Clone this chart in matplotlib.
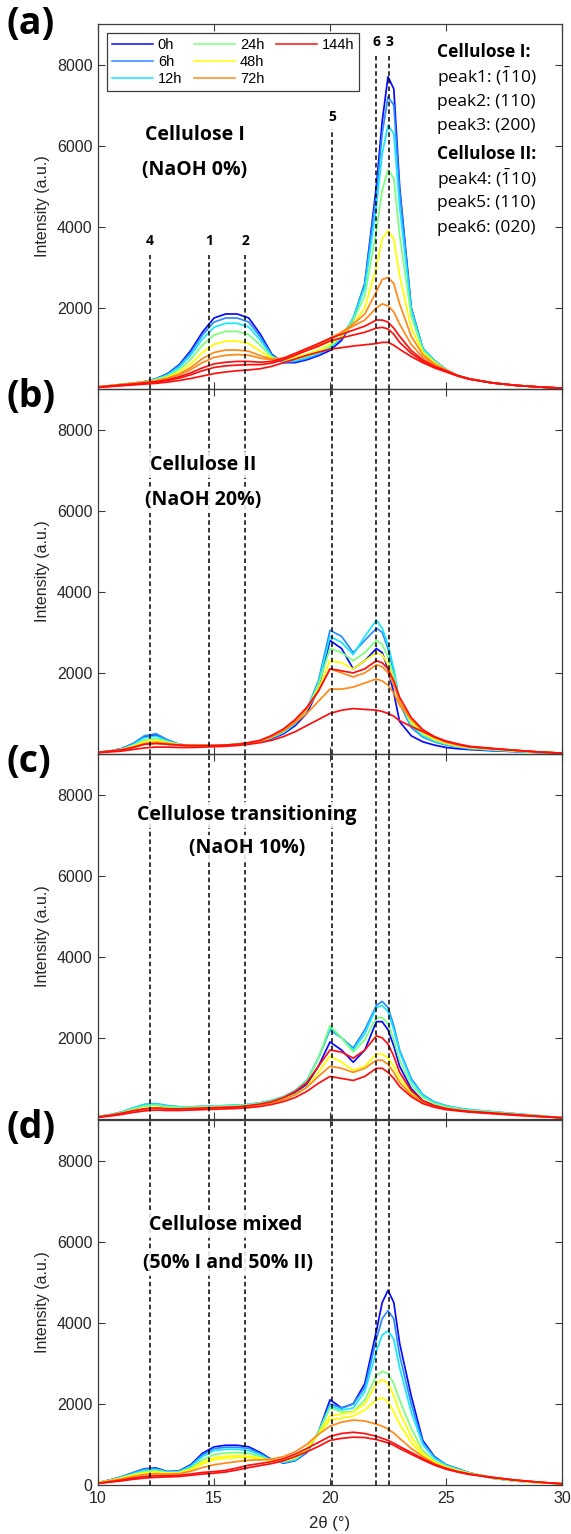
import matplotlib
matplotlib.use('Agg')
import matplotlib.pyplot as plt
from matplotlib.lines import Line2D

plt.rcParams['mathtext.fontset'] = 'custom'
plt.rcParams['mathtext.rm'] = 'Open Sans'
plt.rcParams['mathtext.default'] = 'regular'

# ---------------- data ----------------
X = [10, 10.5, 11, 11.5, 12, 12.5, 13, 13.5, 14, 14.5, 15, 15.5, 16, 16.5, 17, 17.5, 18, 18.5, 19, 19.5,
     20, 20.5, 21, 21.5, 22, 22.25, 22.5, 22.75, 23, 23.5, 24, 24.5, 25, 25.5, 26, 27, 28, 29, 30]

TIMES = ['0h', '6h', '12h', '24h', '48h', '72h', '144h']
TIME_COLORS = ['#0a0aff', '#2b8cff', '#19e6ff', '#7dff7d', '#ffff00', '#ff8a1a', '#ff1010']

# Panel (a) cellulose I
A_0H = [50, 80, 110, 140, 180, 250, 380, 600, 950, 1400, 1750, 1850, 1850, 1750, 1350, 850, 650, 650, 720, 820, 950, 1200, 1700, 2600, 5000, 6600, 7700, 7400, 5000, 2000, 1000, 700, 480, 330, 250, 150, 90, 50, 20]
A_6H = [50, 80, 110, 140, 180, 250, 370, 580, 900, 1330, 1650, 1750, 1750, 1650, 1280, 830, 660, 680, 750, 850, 1000, 1250, 1750, 2600, 4800, 6300, 7200, 7000, 4900, 2000, 1000, 700, 480, 330, 250, 150, 90, 50, 20]
A_12H = [50, 80, 110, 140, 180, 240, 350, 540, 830, 1230, 1520, 1620, 1620, 1530, 1200, 800, 680, 700, 780, 880, 1020, 1280, 1750, 2500, 4500, 5800, 6500, 6300, 4500, 1950, 1000, 700, 480, 330, 250, 150, 90, 50, 20]
A_24H = [50, 80, 110, 140, 180, 230, 320, 480, 730, 1080, 1330, 1420, 1420, 1340, 1080, 780, 700, 730, 800, 900, 1050, 1300, 1700, 2300, 3900, 4900, 5400, 5200, 3800, 1800, 950, 680, 470, 330, 250, 150, 90, 50, 20]
A_48H = [50, 80, 110, 140, 170, 210, 290, 420, 620, 900, 1100, 1180, 1180, 1120, 930, 760, 730, 780, 860, 960, 1100, 1300, 1600, 2000, 3000, 3700, 3900, 3700, 2800, 1500, 900, 650, 470, 330, 250, 150, 90, 50, 20]
A_72H = [50, 80, 110, 140, 170, 200, 270, 370, 530, 750, 900, 960, 960, 930, 820, 740, 760, 850, 950, 1050, 1200, 1400, 1600, 1850, 2400, 2700, 2750, 2600, 2100, 1300, 850, 620, 470, 330, 250, 150, 90, 50, 20]
A_72H_B = [50, 80, 110, 140, 170, 200, 260, 350, 480, 650, 780, 830, 850, 830, 760, 720, 760, 860, 970, 1080, 1250, 1400, 1550, 1700, 2000, 2100, 2050, 1900, 1600, 1100, 780, 600, 460, 330, 250, 150, 90, 50, 20]
A_144H = [50, 70, 100, 120, 150, 180, 230, 300, 400, 520, 620, 660, 680, 680, 660, 680, 760, 880, 1000, 1120, 1250, 1350, 1450, 1550, 1700, 1700, 1650, 1500, 1300, 950, 720, 560, 450, 330, 250, 150, 90, 50, 20]
A_144H_B = [45, 65, 90, 110, 140, 170, 210, 270, 350, 450, 530, 570, 590, 600, 600, 640, 720, 830, 950, 1060, 1180, 1260, 1330, 1400, 1500, 1520, 1480, 1350, 1150, 880, 680, 540, 440, 330, 250, 150, 90, 50, 20]
A_144H_C = [40, 60, 80, 100, 120, 140, 170, 210, 260, 320, 380, 420, 450, 470, 500, 560, 650, 740, 830, 910, 980, 1020, 1060, 1090, 1120, 1150, 1150, 1080, 980, 800, 650, 520, 420, 320, 240, 150, 90, 50, 20]

# Panel (b) cellulose II
B_0H = [40, 70, 130, 250, 430, 470, 330, 230, 200, 200, 200, 210, 230, 260, 300, 380, 500, 700, 1000, 1600, 2800, 2600, 2100, 2300, 2600, 2500, 2100, 1500, 800, 450, 300, 220, 160, 130, 110, 80, 60, 40, 20]
B_6H = [40, 70, 130, 250, 450, 500, 350, 240, 210, 210, 210, 220, 240, 270, 310, 400, 530, 750, 1100, 1800, 3050, 2900, 2500, 2800, 3100, 3000, 2600, 2000, 1250, 650, 420, 300, 220, 170, 130, 90, 60, 40, 20]
B_12H = [40, 70, 120, 230, 400, 440, 320, 230, 210, 210, 210, 220, 240, 270, 310, 400, 530, 750, 1100, 1750, 2900, 2750, 2450, 2900, 3300, 3100, 2700, 2100, 1300, 700, 450, 320, 240, 180, 140, 100, 70, 40, 20]
B_24H = [40, 70, 110, 200, 340, 380, 300, 230, 210, 210, 210, 220, 240, 270, 320, 420, 560, 780, 1100, 1700, 2600, 2500, 2300, 2500, 2800, 2700, 2400, 1900, 1300, 750, 480, 340, 250, 190, 150, 110, 70, 40, 20]
B_48H = [40, 70, 110, 190, 300, 330, 280, 230, 210, 210, 210, 220, 240, 270, 320, 430, 580, 800, 1100, 1600, 2300, 2250, 2100, 2300, 2500, 2450, 2200, 1800, 1300, 800, 520, 370, 270, 200, 160, 120, 80, 50, 20]
B_72H = [40, 70, 100, 170, 260, 290, 260, 220, 210, 210, 210, 220, 240, 280, 330, 440, 600, 820, 1100, 1550, 2100, 2000, 1900, 2000, 2200, 2150, 2000, 1700, 1300, 850, 560, 400, 290, 220, 170, 130, 90, 50, 20]
B_72H_B = [40, 70, 100, 160, 240, 260, 240, 210, 200, 200, 200, 210, 230, 270, 320, 420, 570, 770, 1000, 1300, 1600, 1600, 1650, 1750, 1850, 1800, 1700, 1500, 1200, 850, 580, 420, 300, 230, 180, 130, 90, 50, 20]
B_144H = [40, 70, 100, 160, 240, 260, 240, 220, 210, 210, 210, 220, 240, 280, 340, 460, 620, 850, 1150, 1550, 2100, 2050, 2000, 2100, 2300, 2250, 2100, 1800, 1400, 900, 600, 430, 310, 240, 180, 130, 90, 50, 20]
B_144H_B = [30, 50, 70, 110, 150, 170, 170, 160, 160, 170, 180, 190, 210, 240, 280, 340, 430, 550, 700, 850, 1000, 1080, 1120, 1100, 1080, 1050, 1000, 930, 820, 680, 550, 420, 320, 250, 190, 140, 90, 50, 20]

# Panel (c) transitioning
C_0H = [60, 100, 160, 250, 330, 350, 300, 280, 280, 290, 300, 310, 320, 340, 380, 440, 520, 650, 850, 1300, 1900, 1700, 1400, 1700, 2400, 2400, 2200, 1800, 1300, 750, 450, 330, 260, 220, 190, 150, 110, 70, 30]
C_6H = [60, 100, 170, 270, 360, 380, 330, 300, 300, 310, 320, 330, 340, 360, 400, 460, 550, 700, 950, 1500, 2200, 2000, 1750, 2200, 2800, 2900, 2750, 2300, 1700, 1000, 600, 420, 330, 270, 230, 180, 130, 80, 30]
C_12H = [60, 100, 170, 270, 350, 370, 320, 300, 300, 310, 320, 330, 340, 360, 400, 460, 550, 700, 950, 1500, 2250, 2000, 1700, 2100, 2750, 2800, 2650, 2200, 1650, 950, 580, 410, 320, 270, 230, 180, 130, 80, 30]
C_24H = [60, 100, 160, 250, 320, 340, 300, 280, 290, 300, 310, 320, 330, 350, 390, 450, 540, 690, 930, 1500, 2300, 2000, 1650, 1950, 2500, 2500, 2350, 1950, 1450, 850, 530, 380, 300, 250, 210, 170, 120, 80, 30]
C_48H = [50, 90, 140, 210, 270, 290, 260, 250, 260, 270, 280, 290, 300, 320, 360, 410, 490, 610, 800, 1150, 1550, 1400, 1200, 1300, 1600, 1600, 1500, 1300, 1000, 650, 430, 320, 260, 220, 190, 150, 110, 70, 30]
C_72H = [50, 90, 140, 200, 250, 270, 250, 240, 250, 260, 270, 280, 290, 310, 350, 400, 480, 600, 780, 1050, 1300, 1250, 1150, 1250, 1450, 1450, 1350, 1150, 900, 600, 410, 310, 250, 210, 180, 140, 100, 60, 30]
C_144H = [50, 90, 140, 200, 250, 270, 250, 250, 260, 270, 280, 290, 300, 330, 370, 430, 530, 680, 900, 1300, 1700, 1650, 1500, 1700, 2050, 2000, 1850, 1550, 1150, 700, 450, 330, 260, 220, 190, 150, 110, 70, 30]
C_144H_B = [40, 70, 110, 160, 200, 220, 210, 210, 220, 230, 240, 250, 260, 280, 310, 360, 430, 530, 680, 880, 1050, 1000, 950, 1050, 1250, 1250, 1150, 1000, 800, 550, 380, 290, 230, 200, 170, 130, 90, 60, 30]

# Panel (d) mixed
D_0H = [60, 120, 200, 300, 400, 420, 330, 350, 500, 780, 940, 980, 980, 940, 800, 620, 540, 600, 800, 1300, 2100, 1900, 2000, 2500, 3800, 4500, 4800, 4500, 3500, 2200, 1100, 700, 500, 400, 300, 170, 100, 60, 30]
D_6H = [60, 120, 200, 300, 390, 400, 330, 340, 480, 740, 900, 930, 930, 900, 770, 610, 550, 610, 820, 1300, 2000, 1900, 2000, 2400, 3600, 4100, 4300, 4100, 3200, 2000, 1050, 680, 500, 400, 300, 170, 100, 60, 30]
D_12H = [60, 110, 190, 280, 360, 380, 320, 330, 460, 700, 850, 880, 880, 850, 740, 600, 560, 620, 830, 1300, 1950, 1850, 1900, 2300, 3300, 3700, 3800, 3600, 2900, 1800, 1000, 660, 490, 390, 300, 170, 100, 60, 30]
D_24H = [60, 110, 180, 260, 330, 350, 300, 310, 420, 620, 750, 790, 800, 780, 700, 600, 580, 650, 850, 1300, 1900, 1800, 1800, 2100, 2700, 2800, 2750, 2500, 2100, 1400, 850, 600, 460, 370, 290, 170, 100, 60, 30]
D_48H = [60, 110, 170, 240, 300, 320, 290, 300, 390, 560, 670, 710, 720, 710, 660, 600, 600, 680, 880, 1250, 1700, 1750, 1800, 2000, 2500, 2600, 2500, 2200, 1800, 1200, 780, 570, 450, 360, 290, 180, 110, 60, 30]
D_48H_B = [60, 100, 160, 230, 290, 310, 280, 290, 370, 520, 620, 660, 680, 680, 640, 600, 610, 700, 900, 1250, 1600, 1650, 1700, 1850, 2100, 2150, 2050, 1800, 1500, 1050, 720, 540, 430, 350, 280, 180, 110, 60, 30]
D_72H = [50, 100, 150, 210, 260, 280, 270, 280, 340, 430, 500, 540, 580, 610, 620, 640, 700, 820, 1000, 1250, 1450, 1550, 1600, 1580, 1500, 1450, 1380, 1280, 1150, 900, 700, 530, 420, 340, 280, 190, 120, 70, 30]
D_144H = [40, 80, 120, 170, 210, 230, 230, 240, 270, 310, 330, 360, 420, 490, 530, 580, 650, 760, 900, 1050, 1200, 1270, 1300, 1270, 1200, 1150, 1100, 1030, 950, 800, 650, 510, 410, 330, 270, 190, 120, 70, 30]
D_144H_B = [40, 70, 100, 140, 170, 190, 200, 210, 240, 270, 290, 320, 370, 430, 480, 530, 600, 700, 820, 950, 1100, 1150, 1180, 1170, 1120, 1080, 1040, 980, 900, 760, 620, 490, 390, 320, 260, 180, 120, 70, 30]

# (series, time index)
PANEL_A = [(A_0H, 0), (A_6H, 1), (A_12H, 2), (A_24H, 3), (A_48H, 4), (A_72H, 5), (A_72H_B, 5),
           (A_144H, 6), (A_144H_B, 6), (A_144H_C, 6)]
PANEL_B = [(B_0H, 0), (B_6H, 1), (B_12H, 2), (B_24H, 3), (B_48H, 4), (B_72H, 5), (B_72H_B, 5),
           (B_144H, 6), (B_144H_B, 6)]
PANEL_C = [(C_0H, 0), (C_6H, 1), (C_12H, 2), (C_24H, 3), (C_48H, 4), (C_72H, 5),
           (C_144H, 6), (C_144H_B, 6)]
PANEL_D = [(D_0H, 0), (D_6H, 1), (D_12H, 2), (D_24H, 3), (D_48H, 4), (D_48H_B, 4), (D_72H, 5),
           (D_144H, 6), (D_144H_B, 6)]

PEAK_NAMES = ['4', '1', '2', '5', '6', '3']
PEAK_X = [12.25, 14.8, 16.35, 20.1, 22.0, 22.55]
PEAK_LINE_TOP_A = [3300, 3300, 3300, 6400, 8250, 8250]
PEAK_LABEL_Y_A = [3650, 3650, 3650, 6700, 8550, 8550]

PANEL_LABELS = ['(a)', '(b)', '(c)', '(d)']
TITLES = [('Cellulose I', '(NaOH 0%)'), ('Cellulose II', '(NaOH 20%)'),
          ('Cellulose transitioning', '(NaOH 10%)'), ('Cellulose mixed', '(50% I and 50% II)')]
INFO_LINES = [('Cellulose I:', True), ('peak1: ($\\bar{1}$10)', False), ('peak2: (110)', False),
              ('peak3: (200)', False), ('Cellulose II:', True), ('peak4: ($\\bar{1}$10)', False),
              ('peak5: (110)', False), ('peak6: (020)', False)]

# ---------------- layout ----------------
W, H = 571, 1534
fig = plt.figure(figsize=(W / 100, H / 100), dpi=100)
left, right = 98 / W, 562 / W
tops_px = [24, 389, 754, 1120]
ph = 365
AX_COL = '#3c3c3c'
TICK_FONT = 'Liberation Sans'
BOLD_FONT = 'Open Sans'

title_pos = [((0.209, 0.696), (0.209, 0.600)), ((0.227, 0.792), (0.227, 0.696)),
             ((0.321, 0.833), (0.321, 0.742)), ((0.274, 0.712), (0.280, 0.608))]
label_y_px = [24, 397, 762, 1128]

panels = [PANEL_A, PANEL_B, PANEL_C, PANEL_D]
axes = []
for i, curves in enumerate(panels):
    bottom = 1 - (tops_px[i] + ph) / H
    ax = fig.add_axes([left, bottom, right - left, ph / H])
    ax.patch.set_alpha(0)
    axes.append(ax)
    for series, ti in curves:
        ax.plot(X, series, color=TIME_COLORS[ti], lw=1.25, zorder=2)
    ax.set_xlim(10, 30)
    ax.set_ylim(0, 9000)
    ax.set_xticks([10, 15, 20, 25, 30])
    if i < 3:
        ax.set_yticks([2000, 4000, 6000, 8000])
        ax.set_xticklabels([])
    else:
        ax.set_yticks([0, 2000, 4000, 6000, 8000])
        ax.set_xlabel('2θ (°)', fontsize=12, family=TICK_FONT, color='#262626')
        ax.xaxis.set_label_coords(0.5, -0.085)
    ax.tick_params(direction='in', length=5, width=0.8, top=True, right=True, colors=AX_COL,
                   labelsize=11.5, labelcolor='#262626', pad=4)
    for lab in ax.get_xticklabels() + ax.get_yticklabels():
        lab.set_family(TICK_FONT)
    for s in ax.spines.values():
        s.set_color(AX_COL)
        s.set_linewidth(0.9)
    ax.set_ylabel('Intensity (a.u.)', fontsize=11.5, family=TICK_FONT, color='#262626')
    ax.yaxis.set_label_coords(-0.104, 0.5)

    # dashed peak lines
    if i == 0:
        for px, top in zip(PEAK_X, PEAK_LINE_TOP_A):
            ax.plot([px, px], [0, top], color='black', lw=1.1, ls=(0, (3, 2)), zorder=3)
        for name, px, ly in zip(PEAK_NAMES, PEAK_X, PEAK_LABEL_Y_A):
            ax.text(px, ly, name, ha='center', va='center', fontsize=10, fontweight='bold',
                    family=BOLD_FONT, zorder=4)
    else:
        for px in PEAK_X:
            ax.plot([px, px], [0, 9000], color='black', lw=1.1, ls=(0, (3, 2)), zorder=3)

    # titles
    (t1, t2) = TITLES[i]
    (p1, p2) = title_pos[i]
    for txt, pos in ((t1, p1), (t2, p2)):
        ax.text(pos[0], pos[1], txt, transform=ax.transAxes, ha='center', va='center',
                fontsize=14, fontweight='bold', family=BOLD_FONT, zorder=5,
                bbox=dict(boxstyle='square,pad=0.15', fc='white', ec='none', alpha=0.85))

    fig.text(7 / W, 1 - label_y_px[i] / H, PANEL_LABELS[i], ha='left', va='center',
             fontsize=27, fontweight='bold', family=BOLD_FONT)

# legend in panel (a)
ax = axes[0]
handles = [Line2D([], [], color=c, lw=1.1) for c in TIME_COLORS]
labels = list(TIMES)
handles += [Line2D([], [], color='none'), Line2D([], [], color='none')]
labels += ['', '']
leg = ax.legend(handles, labels, ncol=3, loc='upper left', bbox_to_anchor=(0.019, 0.975),
                borderaxespad=0, frameon=True, fancybox=False, framealpha=1,
                prop={'family': TICK_FONT, 'size': 10.5}, handlelength=2.8, handletextpad=0.35,
                columnspacing=0.8, labelspacing=0.2, borderpad=0.35)
leg.get_frame().set_edgecolor(AX_COL)
leg.get_frame().set_linewidth(0.9)

# info block
info_y_px = [52, 77, 102, 126, 154, 179, 203, 228]
for (txt, bold), ypx in zip(INFO_LINES, info_y_px):
    ax.text((437 - 98) / 464, (389 - ypx) / 365, txt, transform=ax.transAxes, ha='left',
            va='center', fontsize=12.5, fontweight='bold' if bold else 'normal', family=BOLD_FONT)

fig.savefig('out.png', dpi=100)
